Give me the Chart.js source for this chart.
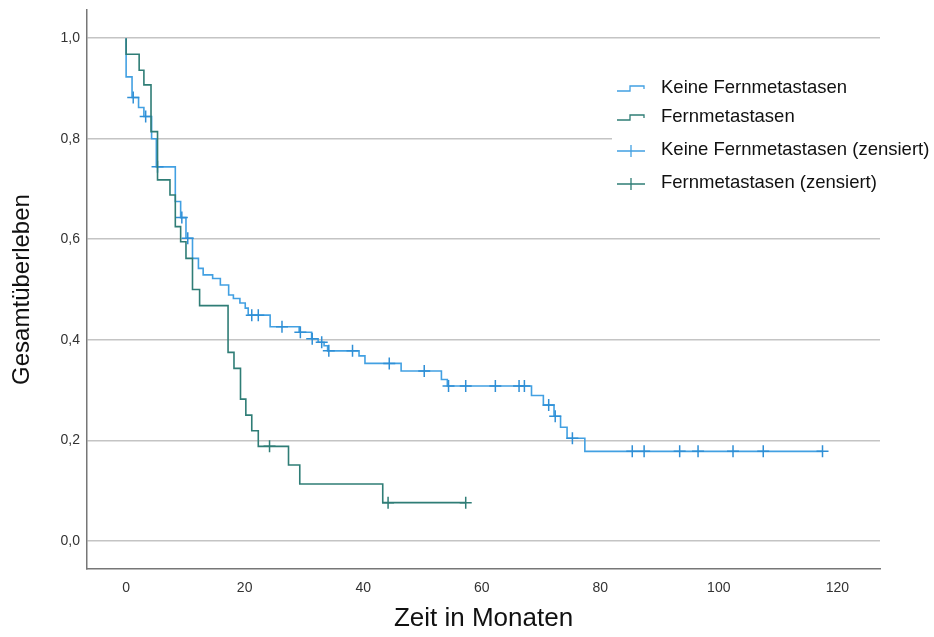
<!DOCTYPE html>
<html>
<head>
<meta charset="utf-8">
<script src="https://cdn.jsdelivr.net/npm/chart.js@4"></script>
<style>
  body { margin: 0; background: #fff; }
  #wrap { width: 934px; height: 637px; }
</style>
</head>
<body>
<div id="wrap"><canvas id="km" width="934" height="637"></canvas></div>
<script>
// Kaplan-Meier: Gesamtüberleben nach Fernmetastasen
const seriesNames = ['Keine Fernmetastasen', 'Fernmetastasen']

// Keine Fernmetastasen - Zeitpunkte und Überlebensanteil (Stufen)
const blueTimes = [0, 0, 1.0, 2.1, 3.0, 4.3, 5.1, 8.3, 9.2, 10.1, 11.2, 12.2, 13.0, 14.6, 15.9, 17.3, 18.1, 19.2, 20.1, 20.6, 24.3, 29.2, 31.3, 32.4, 33.4, 34.0, 39.3, 40.3, 46.4, 53.2, 54.2, 68.4, 70.4, 72.2, 73.3, 74.4, 77.4, 117.5]
const blueSurv = [1, 0.923, 0.882, 0.862, 0.844, 0.80, 0.744, 0.675, 0.643, 0.602, 0.562, 0.542, 0.529, 0.522, 0.509, 0.489, 0.482, 0.473, 0.463, 0.449, 0.426, 0.415, 0.402, 0.395, 0.388, 0.378, 0.368, 0.353, 0.338, 0.321, 0.308, 0.289, 0.270, 0.248, 0.226, 0.204, 0.178, 0.178]
// zensiert
const blueCensTimes = [1.2, 3.3, 5.3, 9.4, 10.4, 21.2, 22.3, 26.3, 29.4, 31.4, 33.0, 34.2, 38.2, 44.4, 50.3, 54.4, 57.3, 62.3, 66.3, 67.2, 71.3, 72.4, 75.3, 85.4, 87.4, 93.4, 96.5, 102.4, 107.5, 117.5]
const blueCensSurv = [0.882, 0.844, 0.744, 0.643, 0.602, 0.449, 0.449, 0.426, 0.415, 0.402, 0.395, 0.378, 0.378, 0.353, 0.338, 0.308, 0.308, 0.308, 0.308, 0.308, 0.270, 0.248, 0.204, 0.178, 0.178, 0.178, 0.178, 0.178, 0.178, 0.178]

// Fernmetastasen
const greenTimes = [0, 0, 2.2, 3.0, 4.2, 5.3, 7.4, 8.3, 9.2, 10.1, 11.2, 12.4, 17.2, 18.2, 19.3, 20.2, 21.2, 22.3, 27.4, 29.3, 43.3, 57.3]
const greenSurv = [1, 0.968, 0.936, 0.907, 0.814, 0.718, 0.688, 0.625, 0.595, 0.562, 0.500, 0.468, 0.375, 0.343, 0.282, 0.250, 0.219, 0.188, 0.151, 0.113, 0.076, 0.076]
const greenCensTimes = [24.2, 44.2, 57.3]
const greenCensSurv = [0.188, 0.076, 0.076]

const xTicks = [0, 20, 40, 60, 80, 100, 120]
const yTicks = [0, 0.2, 0.4, 0.6, 0.8, 1.0]

const blue = '#42a0e2'
const green = '#2f7d76'

function pts(xs, ys) {
	return xs.map(function (x, i) { return { x: x, y: ys[i] } })
}

// eigene Legende wie im SPSS-Diagramm
const legendBox = {
	id: 'legendBox',
	afterDraw: function (chart) {
		const ctx = chart.ctx
		ctx.save()
		ctx.fillStyle = '#fff'
		ctx.fillRect(612, 60, 322, 150)
		const rows = [
			{ text: seriesNames[0], color: blue, type: 'step', y: 88 },
			{ text: seriesNames[1], color: green, type: 'step', y: 117 },
			{ text: seriesNames[0] + ' (zensiert)', color: blue, type: 'cross', y: 150 },
			{ text: seriesNames[1] + ' (zensiert)', color: green, type: 'cross', y: 183 },
		]
		rows.forEach(function (r) {
			ctx.strokeStyle = r.color
			ctx.lineWidth = 1.3
			ctx.beginPath()
			if (r.type === 'step') {
				ctx.moveTo(617, r.y + 3)
				ctx.lineTo(630, r.y + 3)
				ctx.lineTo(630, r.y - 2)
				ctx.lineTo(644, r.y - 2)
				ctx.lineTo(644, r.y + 1)
			} else {
				ctx.moveTo(617, r.y + 1)
				ctx.lineTo(645, r.y + 1)
				ctx.moveTo(631, r.y - 5)
				ctx.lineTo(631, r.y + 7)
			}
			ctx.stroke()
			ctx.fillStyle = '#111'
			ctx.font = '18.5px "Liberation Sans", Arial, sans-serif'
			ctx.textBaseline = 'middle'
			ctx.fillText(r.text, 661, r.y)
		})
		ctx.restore()
	}
}

const ctx = document.getElementById('km')
const myChart = new Chart(ctx, {
	type: 'line',
	data: {
		datasets: [
			{
				label: seriesNames[1] + ' (zensiert)',
				data: pts(greenCensTimes, greenCensSurv),
				showLine: false,
				pointStyle: 'cross',
				pointRadius: 6,
				pointBorderWidth: 1.5,
				borderColor: green,
				order: 0,
			},
			{
				label: seriesNames[1],
				data: pts(greenTimes, greenSurv),
				stepped: 'before',
				borderColor: green,
				borderWidth: 1.6,
				pointRadius: 0,
				fill: false,
				order: 1,
			},
			{
				label: seriesNames[0] + ' (zensiert)',
				data: pts(blueCensTimes, blueCensSurv),
				showLine: false,
				pointStyle: 'cross',
				pointRadius: 6,
				pointBorderWidth: 1.5,
				borderColor: '#2f8fd6',
				order: 2,
			},
			{
				label: seriesNames[0],
				data: pts(blueTimes, blueSurv),
				stepped: 'before',
				borderColor: blue,
				borderWidth: 1.6,
				pointRadius: 0,
				fill: false,
				order: 3,
			},
		],
	},
	options: {
		responsive: false,
		animation: false,
		layout: { padding: { top: 10, right: 54, left: 0, bottom: 0 } },
		plugins: {
			legend: { display: false },
			tooltip: { enabled: false },
		},
		scales: {
			x: {
				type: 'linear',
				min: -6.6,
				max: 127.2,
				afterBuildTicks: function (scale) {
					scale.ticks = xTicks.map(function (v) { return { value: v } })
				},
				afterFit: function (scale) {
					scale.height = 68
					scale.paddingLeft = 0
					scale.paddingRight = 0
				},
				grid: { display: false, drawTicks: false },
				border: { display: true, color: '#777', width: 1.5 },
				ticks: {
					padding: 11,
					color: '#333',
					font: { family: '"Liberation Sans", Arial, sans-serif', size: 14 },
				},
				title: {
					display: true,
					text: 'Zeit in Monaten',
					color: '#111',
					padding: { top: 0, bottom: 3 },
					font: { family: '"Liberation Sans", Arial, sans-serif', size: 26 },
				},
			},
			y: {
				type: 'linear',
				min: -0.056,
				max: 1.056,
				afterBuildTicks: function (scale) {
					scale.ticks = yTicks.map(function (v) { return { value: v } })
				},
				afterFit: function (scale) {
					scale.width = 87
					scale.paddingTop = 0
					scale.paddingBottom = 0
				},
				grid: { color: '#c4c4c4', lineWidth: 1.5, drawTicks: false },
				border: { display: true, color: '#777', width: 1.5 },
				ticks: {
					padding: 7,
					color: '#333',
					font: { family: '"Liberation Sans", Arial, sans-serif', size: 14 },
					callback: function (v) { return v.toFixed(1).replace('.', ',') },
				},
				title: {
					display: true,
					text: 'Gesamtüberleben',
					color: '#111',
					padding: { top: 8, bottom: 0 },
					font: { family: '"Liberation Sans", Arial, sans-serif', size: 24 },
				},
			},
		},
	},
	plugins: [legendBox],
})
</script>
</body>
</html>
